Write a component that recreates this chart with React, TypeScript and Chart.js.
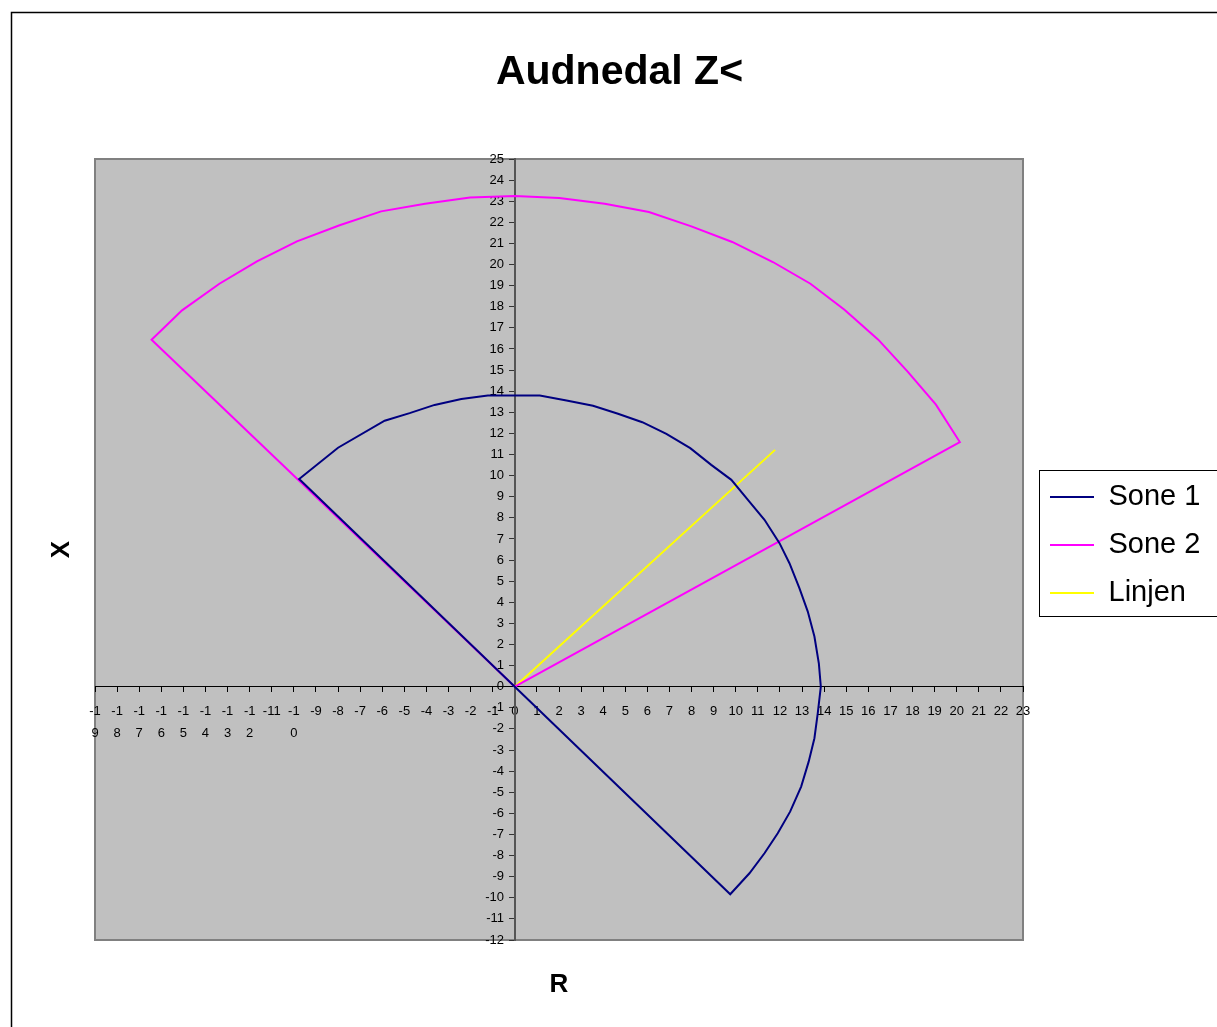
import React, { useEffect, useRef } from "react";
import { Chart, registerables } from "chart.js";

Chart.register(...registerables);

const FONT = "'Liberation Sans', Arial, sans-serif";

const TITLE = "Audnedal Z<";
const X_TITLE = "R";
const Y_TITLE = "X";

const X_MIN = -19;
const X_MAX = 23;
const Y_MIN = -12;
const Y_MAX = 25;

// Tick labels as shown (narrow labels wrap onto two lines)
const X_TICK_LABELS = [
  "-1\n9", "-1\n8", "-1\n7", "-1\n6", "-1\n5", "-1\n4", "-1\n3", "-1\n2", "-11", "-1\n0",
  "-9", "-8", "-7", "-6", "-5", "-4", "-3", "-2", "-1", "0",
  "1", "2", "3", "4", "5", "6", "7", "8", "9", "10",
  "11", "12", "13", "14", "15", "16", "17", "18", "19", "20",
  "21", "22", "23",
];

const SERIES_NAMES = ["Sone 1", "Sone 2", "Linjen"];
const SERIES_COLORS = ["#000080", "#FF00FF", "#FFFF00"];

const SONE1_X = [0, 9.75, 10.62, 11.3, 11.9, 12.46, 12.96, 13.3, 13.56, 13.71, 13.85, 13.76, 13.56, 13.26, 12.88, 12.43, 11.98, 11.3, 10.55, 9.8, 8.89, 7.94, 6.86, 5.77, 4.67, 3.54, 2.34, 1.13, -1.22, -2.42, -3.63, -4.76, -5.89, -8.0, -9.76, 0];
const SONE1_Y = [0, -9.83, -8.84, -7.89, -6.94, -5.92, -4.73, -3.55, -2.44, -1.26, 0, 1.11, 2.38, 3.56, 4.67, 5.85, 6.8, 7.91, 8.85, 9.8, 10.51, 11.3, 11.98, 12.53, 12.93, 13.31, 13.56, 13.8, 13.8, 13.63, 13.35, 12.96, 12.6, 11.32, 9.84, 0];

const SONE2_X = [0, 20.14, 19.06, 17.78, 16.45, 14.92, 13.38, 11.68, 9.84, 7.99, 6.07, 4.07, 2.01, 0, -2.03, -4.06, -6.05, -7.93, -9.86, -11.67, -13.37, -15.06, -16.44, 0];
const SONE2_Y = [0, 11.59, 13.36, 14.93, 16.44, 17.86, 19.09, 20.12, 21.07, 21.81, 22.49, 22.88, 23.15, 23.25, 23.18, 22.88, 22.52, 21.86, 21.1, 20.15, 19.09, 17.83, 16.44, 0];

const LINJEN_X = [0, 11.78];
const LINJEN_Y = [0, 11.22];

const toPoints = (xs: number[], ys: number[]) => xs.map((x, i) => ({ x, y: ys[i] }));

const decorPlugin = {
  id: "decor",
  afterLayout(chart: any) {
    const lg = chart.legend;
    if (lg) {
      lg.top -= 4.5;
      lg.bottom -= 4.5;
    }
  },
  beforeDraw(chart: any) {
    const { ctx, chartArea: a } = chart;
    ctx.save();
    // outer chart frame
    ctx.strokeStyle = "#000";
    ctx.lineWidth = 1.5;
    ctx.strokeRect(11.5, 12.5, 3000, 3000);
    // plot area
    ctx.fillStyle = "#C0C0C0";
    ctx.fillRect(a.left, a.top, a.right - a.left, a.bottom - a.top);
    ctx.strokeStyle = "#808080";
    ctx.lineWidth = 2;
    ctx.strokeRect(a.left, a.top, a.right - a.left, a.bottom - a.top);
    // legend frame
    ctx.fillStyle = "#FFFFFF";
    ctx.fillRect(1039.5, 470.5, 400, 146);
    ctx.strokeStyle = "#000";
    ctx.lineWidth = 1;
    ctx.strokeRect(1039.5, 470.5, 400, 146);
    ctx.restore();
  },
};

const hiddenAxisBase = {
  type: "linear" as const,
  display: true,
  ticks: { display: false },
  grid: { display: false, drawTicks: false },
  border: { display: false },
};

export default function App() {
  const canvasRef = useRef<HTMLCanvasElement | null>(null);

  useEffect(() => {
    if (!canvasRef.current) return;
    const datasets = [
      { xs: SONE1_X, ys: SONE1_Y },
      { xs: SONE2_X, ys: SONE2_Y },
      { xs: LINJEN_X, ys: LINJEN_Y },
    ].map((s, i) => ({
      label: SERIES_NAMES[i],
      data: toPoints(s.xs, s.ys),
      showLine: true,
      borderColor: SERIES_COLORS[i],
      backgroundColor: SERIES_COLORS[i],
      borderWidth: 2,
      pointRadius: 0,
      pointHoverRadius: 0,
      tension: 0,
      xAxisID: "x",
      yAxisID: "y",
    }));

    const chart = new Chart(canvasRef.current, {
      type: "scatter",
      data: { datasets },
      plugins: [decorPlugin],
      options: {
        responsive: false,
        animation: false,
        events: [],
        layout: { padding: { left: 38, right: 16, top: 12, bottom: 27 } },
        plugins: {
          tooltip: { enabled: false },
          title: {
            display: true,
            text: TITLE,
            color: "#000",
            font: { family: FONT, size: 41, weight: "bold", lineHeight: 1.2 },
            padding: { top: 36.4, bottom: 61.4 },
          },
          legend: {
            position: "right",
            align: "center",
            fullSize: false,
            maxWidth: 170,
            labels: {
              boxWidth: 44,
              boxHeight: 2,
              padding: 19,
              color: "#000",
              font: { family: FONT, size: 29 },
              sort: (a: any, b: any) => a.datasetIndex - b.datasetIndex,
              generateLabels: (c: any) =>
                (Chart.defaults.plugins.legend.labels as any)
                  .generateLabels(c)
                  .map((l: any) => ({ ...l, fillStyle: l.strokeStyle, lineWidth: 0 })),
            },
          },
        },
        scales: {
          x: {
            type: "linear",
            position: { y: 0 },
            min: X_MIN,
            max: X_MAX,
            ticks: {
              stepSize: 1,
              autoSkip: false,
              maxRotation: 0,
              minRotation: 0,
              padding: 9,
              color: "#000",
              font: { family: FONT, size: 13, lineHeight: 1.69 },
              callback: (value: any) => {
                const s = X_TICK_LABELS[Math.round(Number(value) - X_MIN)] ?? String(value);
                return s.includes("\n") ? s.split("\n") : s;
              },
            },
            grid: { drawOnChartArea: false, drawTicks: true, tickLength: 5, color: "#000", lineWidth: 1 },
            border: { display: true, color: "#000", width: 1 },
          },
          y: {
            type: "linear",
            position: { x: 0 },
            min: Y_MIN,
            max: Y_MAX,
            ticks: {
              stepSize: 1,
              autoSkip: false,
              padding: 6,
              color: "#000",
              font: { family: FONT, size: 13 },
              // labels sit right-aligned on the axis line; pad them clear of the tick marks
              callback: (value: any) => `${value}   `,
            },
            grid: { drawOnChartArea: false, drawTicks: true, tickLength: 5, color: "#333", lineWidth: 1 },
            border: { display: true, color: "#555", width: 2 },
          },
          xTitle: {
            ...hiddenAxisBase,
            axis: "x",
            position: "bottom",
            title: {
              display: true,
              text: X_TITLE,
              color: "#000",
              font: { family: FONT, size: 26, weight: "bold", lineHeight: 1.2 },
              padding: { top: 0, bottom: 0 },
            },
            afterFit: (s: any) => {
              s.height = 60;
            },
          },
          yTitle: {
            ...hiddenAxisBase,
            axis: "y",
            position: "left",
            title: {
              display: true,
              text: Y_TITLE,
              color: "#000",
              font: { family: FONT, size: 26, weight: "bold", lineHeight: 1.2 },
              padding: { top: 8.4, bottom: 0 },
            },
            afterFit: (s: any) => {
              s.width = 57;
            },
          },
          rGap: {
            ...hiddenAxisBase,
            axis: "y",
            position: "right",
            title: { display: false },
            afterFit: (s: any) => {
              s.width = 8;
            },
          },
        } as any,
      } as any,
    });
    return () => chart.destroy();
  }, []);

  return (
    <div style={{ position: "absolute", left: 0, top: 0, width: 1217, height: 1027, overflow: "hidden", background: "#fff" }}>
      <canvas ref={canvasRef} width={1217} height={1027} style={{ display: "block" }} />
    </div>
  );
}
